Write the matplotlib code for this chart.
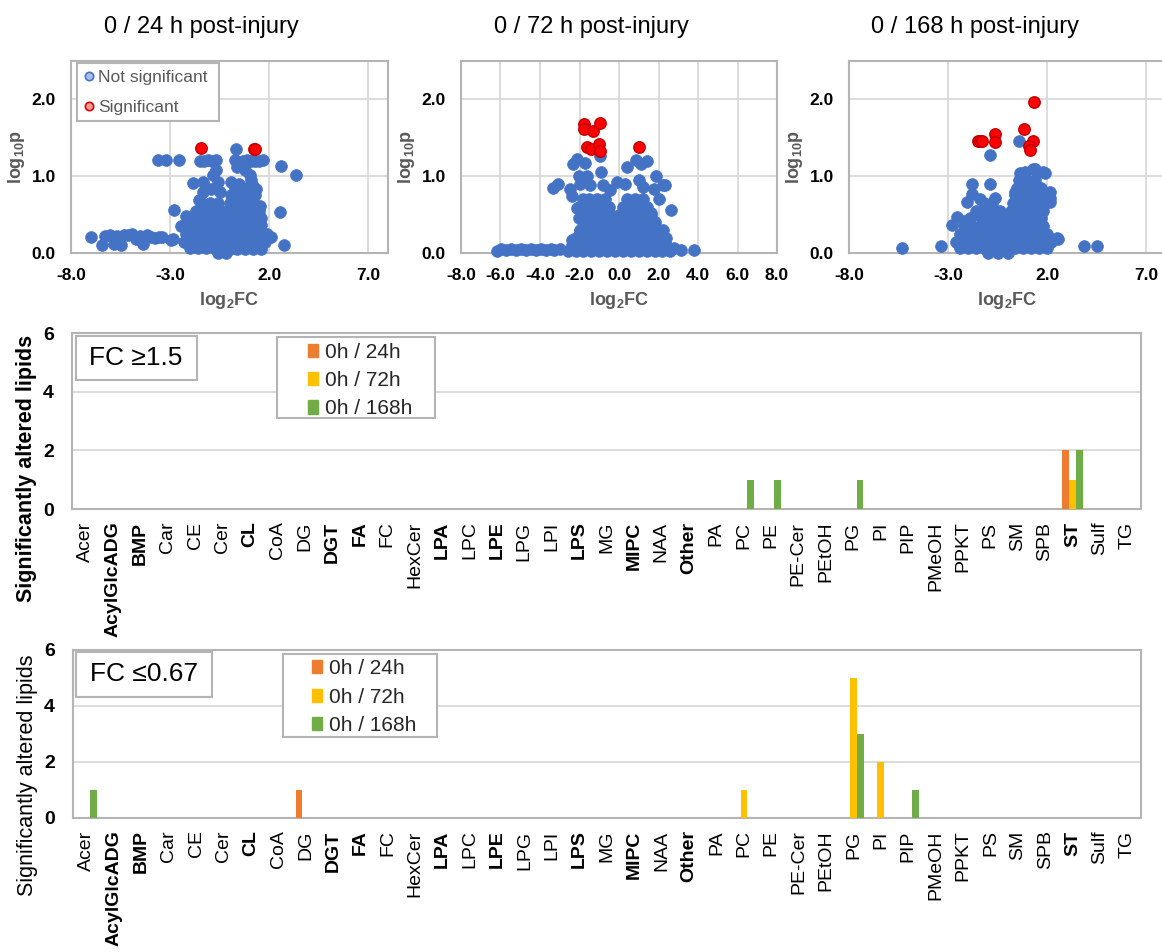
import numpy as np
import matplotlib
matplotlib.use("Agg")
import matplotlib.pyplot as plt
from matplotlib.lines import Line2D
from matplotlib.patches import Patch, Rectangle
from matplotlib.ticker import FormatStrFormatter

plt.rcParams['font.family'] = ['Liberation Sans', 'DejaVu Sans']
plt.rcParams['axes.unicode_minus'] = False
plt.rcParams['mathtext.default'] = 'regular'

BLUE = '#4472C4'
RED = '#FF0000'
DARK_RED = '#C00000'
ORANGE = '#ED7D31'
YELLOW = '#FFC000'
GREEN = '#70AD47'
GRID = '#D9D9D9'
FRAME = '#B4B4B4'
LABEL_GRAY = '#595959'

# ---- volcano data: (log2FC, log10p) ----
ns_24 = [
    (-7.0, 0.21), (-6.45, 0.11), (-6.3, 0.22), (-6.05, 0.23), (-5.85, 0.12), (-5.7, 0.22),
    (-5.5, 0.11), (-5.3, 0.23), (-5.1, 0.24), (-4.9, 0.25), (-4.7, 0.18), (-4.5, 0.22),
    (-4.35, 0.12), (-4.15, 0.23), (-3.95, 0.21), (-3.75, 0.2), (-3.55, 0.21), (-3.4, 0.21),
    (-2.95, 0.17), (-2.87, 0.18),
    (-3.6, 1.21), (-3.2, 1.21), (-2.56, 1.21), (-1.5, 1.2), (-1.3, 1.2), (-1.1, 1.21),
    (-0.9, 1.2), (-0.7, 1.21), (0.3, 1.21), (0.5, 1.19), (0.7, 1.2), (0.9, 1.21), (1.1, 1.2),
    (1.3, 1.2), (1.5, 1.2), (1.7, 1.21), (0.34, 1.36), (2.62, 1.13), (3.37, 1.01),
    (-0.67, 1.08), (-0.84, 1.01), (-0.59, 0.93), (-1.35, 0.93), (-1.85, 0.91), (0.37, 1.12),
    (0.76, 1.08), (1.01, 1.01), (1.1, 0.95), (1.35, 0.84), (0.09, 0.93), (-1.35, 0.8),
    (-0.93, 0.84), (-0.5, 0.8), (1.2, 0.87), (0.5, 0.9),
    (-2.78, 0.56), (2.53, 0.54), (1.52, 0.61), (1.6, 0.37), (-2.19, 0.48), (-1.52, 0.69),
    (-2.44, 0.35), (2.08, 0.21), (2.73, 0.1),
    (-1.4, 0.65), (-1.0, 0.65), (-0.6, 0.65),
    (-1.7, 0.55), (-1.25, 0.55), (-0.85, 0.55), (-0.45, 0.55),
    (-1.9, 0.45), (-1.5, 0.45), (-1.1, 0.45), (-0.7, 0.45), (-0.3, 0.45),
    (-2.0, 0.35), (-1.6, 0.35), (-1.2, 0.35), (-0.8, 0.35), (-0.4, 0.35),
    (-2.2, 0.25), (-1.8, 0.25), (-1.4, 0.25), (-1.0, 0.25), (-0.6, 0.25), (-0.2, 0.25),
    (-2.3, 0.15), (-1.9, 0.15), (-1.5, 0.15), (-1.1, 0.15), (-0.7, 0.15), (-0.3, 0.15),
    (-2.0, 0.07), (-1.6, 0.07), (-1.2, 0.07), (-0.8, 0.07), (-0.4, 0.07),
    (0.3, 0.85), (0.7, 0.85),
    (0.1, 0.75), (0.5, 0.75), (0.9, 0.75), (1.3, 0.75),
    (0.0, 0.65), (0.4, 0.65), (0.8, 0.65), (1.2, 0.65),
    (-0.1, 0.55), (0.3, 0.55), (0.7, 0.55), (1.1, 0.55), (1.5, 0.55),
    (0.0, 0.45), (0.4, 0.45), (0.8, 0.45), (1.2, 0.45), (1.6, 0.45),
    (0.1, 0.35), (0.5, 0.35), (0.9, 0.35), (1.3, 0.35),
    (0.0, 0.25), (0.4, 0.25), (0.8, 0.25), (1.2, 0.25), (1.6, 0.25), (1.9, 0.25),
    (0.2, 0.15), (0.6, 0.15), (1.0, 0.15), (1.4, 0.15), (1.8, 0.15),
    (0.0, 0.05), (0.4, 0.05), (0.8, 0.05), (1.2, 0.05), (1.6, 0.05),
    (-0.6, 0.0), (-0.2, 0.0),
]
sig_24 = [(-1.43, 1.37), (1.22, 1.35), (1.3, 1.36)]

ns_72 = [
    (-6.2, 0.03), (-5.95, 0.05), (-5.7, 0.04), (-5.45, 0.05), (-5.2, 0.04), (-4.95, 0.05),
    (-4.7, 0.04), (-4.45, 0.05), (-4.2, 0.04), (-3.95, 0.05), (-3.7, 0.04), (-3.45, 0.05),
    (-3.3, 0.04), (-2.98, 0.05),
    (-0.94, 1.26), (-2.31, 1.16), (-2.14, 1.23), (-1.71, 1.17), (-3.33, 0.85), (-3.07, 0.9),
    (0.42, 1.12), (0.85, 1.21), (1.1, 1.16), (1.44, 1.2), (1.87, 1.0), (2.21, 0.88),
    (2.34, 0.89), (2.04, 0.7), (2.63, 0.56), (1.61, 0.52), (-0.89, 1.06), (-1.63, 1.0),
    (-2.05, 1.0), (-2.48, 0.84), (-2.39, 0.74), (-1.8, 0.71), (-2.14, 0.59), (-2.05, 0.46),
    (-1.97, 0.29), (2.38, 0.2), (2.8, 0.06), (3.14, 0.04), (3.79, 0.04), (2.38, 0.09),
    (-1.97, 0.9), (-1.46, 0.88), (-0.79, 0.88), (-0.45, 0.82), (-0.11, 0.92), (0.31, 0.9),
    (0.99, 0.95), (1.24, 0.86), (1.75, 0.84), (0.9, 0.69), (1.58, 0.52), (2.25, 0.3),
    (-2.39, 0.17), (-2.05, 0.6),
    (-1.5, 0.7), (-1.1, 0.7), (-0.7, 0.7), (0.4, 0.7), (0.8, 0.7), (1.2, 0.7),
    (-1.7, 0.6), (-1.3, 0.6), (-0.9, 0.6), (-0.5, 0.6), (0.2, 0.6), (0.6, 0.6), (1.0, 0.6), (1.4, 0.6),
    (-1.6, 0.5), (-1.2, 0.5), (-0.8, 0.5), (-0.4, 0.5), (0.0, 0.5), (0.4, 0.5), (0.8, 0.5),
    (1.2, 0.5), (1.6, 0.5),
    (-1.8, 0.4), (-1.4, 0.4), (-1.0, 0.4), (-0.6, 0.4), (-0.2, 0.4), (0.2, 0.4), (0.6, 0.4),
    (1.0, 0.4), (1.4, 0.4), (1.8, 0.4),
    (-2.0, 0.3), (-1.6, 0.3), (-1.2, 0.3), (-0.8, 0.3), (-0.4, 0.3), (0.0, 0.3), (0.4, 0.3),
    (0.8, 0.3), (1.2, 0.3), (1.6, 0.3), (2.0, 0.3),
    (-2.2, 0.2), (-1.8, 0.2), (-1.4, 0.2), (-1.0, 0.2), (-0.6, 0.2), (-0.2, 0.2), (0.2, 0.2),
    (0.6, 0.2), (1.0, 0.2), (1.4, 0.2), (1.8, 0.2), (2.2, 0.2),
    (-2.4, 0.1), (-2.0, 0.1), (-1.6, 0.1), (-1.2, 0.1), (-0.8, 0.1), (-0.4, 0.1), (0.0, 0.1),
    (0.4, 0.1), (0.8, 0.1), (1.2, 0.1), (1.6, 0.1), (2.0, 0.1), (2.4, 0.1),
    (-2.6, 0.03), (-2.2, 0.03), (-1.8, 0.03), (-1.4, 0.03), (-1.0, 0.03), (-0.6, 0.03),
    (-0.2, 0.03), (0.2, 0.03), (0.6, 0.03), (1.0, 0.03), (1.4, 0.03), (1.8, 0.03),
    (2.2, 0.03), (2.6, 0.03),
]
sig_72 = [(-1.76, 1.68), (-1.76, 1.61), (-1.32, 1.59), (-0.94, 1.69), (-1.63, 1.38),
          (-1.42, 1.35), (-1.03, 1.42), (-0.98, 1.33), (1.02, 1.38)]

ns_168 = [
    (0.56, 1.46), (-0.9, 1.28), (-5.34, 0.06), (-3.37, 0.09), (-2.81, 0.37), (-2.56, 0.47),
    (3.84, 0.09), (4.51, 0.09), (2.57, 0.18), (2.15, 0.8), (2.15, 0.67), (1.87, 1.04),
    (1.39, 1.1), (-0.88, 0.9), (-1.8, 0.9), (-1.8, 0.77), (-2.06, 0.67), (-1.47, 0.49),
    (0.61, 1.04), (0.86, 1.06), (1.28, 1.09), (1.78, 1.06), (1.36, 0.89), (2.12, 0.72),
    (0.36, 0.8), (-1.41, 0.7), (-0.65, 0.72), (-0.82, 0.52), (-0.4, 0.55), (-2.19, 0.42),
    (2.5, 0.19),
    (0.6, 0.95), (1.0, 0.95), (1.4, 0.95),
    (0.5, 0.85), (0.9, 0.85), (1.3, 0.85), (1.7, 0.85),
    (0.4, 0.75), (0.8, 0.75), (1.2, 0.75), (1.6, 0.75),
    (-1.2, 0.65), (-0.8, 0.65), (0.3, 0.65), (0.7, 0.65), (1.1, 0.65), (1.5, 0.65), (1.9, 0.65),
    (-1.6, 0.55), (-1.2, 0.55), (-0.6, 0.55), (0.2, 0.55), (0.6, 0.55), (1.0, 0.55),
    (1.4, 0.55), (1.8, 0.55),
    (-1.9, 0.45), (-1.3, 0.45), (-0.9, 0.45), (-0.5, 0.45), (0.1, 0.45), (0.5, 0.45),
    (0.9, 0.45), (1.3, 0.45), (1.7, 0.45),
    (-2.2, 0.35), (-1.8, 0.35), (-1.4, 0.35), (-1.0, 0.35), (-0.6, 0.35), (-0.2, 0.35),
    (0.2, 0.35), (0.6, 0.35), (1.0, 0.35), (1.4, 0.35), (1.8, 0.35),
    (-2.4, 0.25), (-2.0, 0.25), (-1.6, 0.25), (-1.2, 0.25), (-0.8, 0.25), (-0.4, 0.25),
    (0.0, 0.25), (0.4, 0.25), (0.8, 0.25), (1.2, 0.25), (1.6, 0.25), (2.0, 0.25),
    (-2.6, 0.15), (-2.2, 0.15), (-1.8, 0.15), (-1.4, 0.15), (-1.0, 0.15), (-0.6, 0.15),
    (-0.2, 0.15), (0.2, 0.15), (0.6, 0.15), (1.0, 0.15), (1.4, 0.15), (1.8, 0.15), (2.2, 0.15),
    (-2.4, 0.06), (-2.0, 0.06), (-1.6, 0.06), (-1.2, 0.06), (-0.8, 0.06), (-0.4, 0.06),
    (0.0, 0.06), (0.4, 0.06), (0.8, 0.06), (1.2, 0.06), (1.6, 0.06), (2.0, 0.06),
    (-1.0, 0.0), (-0.5, 0.0), (0.0, 0.0),
]
sig_168 = [(1.33, 1.97), (0.83, 1.61), (1.28, 1.46), (1.11, 1.39), (1.16, 1.34),
           (-1.49, 1.46), (-1.39, 1.46), (-1.29, 1.46), (-0.62, 1.55), (-0.62, 1.45)]

titles = ['0 / 24 h post-injury', '0 / 72 h post-injury', '0 / 168 h post-injury']

# ---- lipid class counts ----
lipid_classes = ['Acer', 'AcylGlcADG', 'BMP', 'Car', 'CE', 'Cer', 'CL', 'CoA', 'DG', 'DGT',
                 'FA', 'FC', 'HexCer', 'LPA', 'LPC', 'LPE', 'LPG', 'LPI', 'LPS', 'MG',
                 'MIPC', 'NAA', 'Other', 'PA', 'PC', 'PE', 'PE-Cer', 'PEtOH', 'PG', 'PI',
                 'PIP', 'PMeOH', 'PPKT', 'PS', 'SM', 'SPB', 'ST', 'Sulf', 'TG']
bold_classes = ['AcylGlcADG', 'BMP', 'CL', 'DGT', 'FA', 'LPA', 'LPE', 'LPS', 'MIPC',
                'Other', 'ST']
series_labels = ['0h / 24h', '0h / 72h', '0h / 168h']

up_24 = [0, 0, 0, 0, 0, 0, 0, 0, 0, 0,
         0, 0, 0, 0, 0, 0, 0, 0, 0, 0,
         0, 0, 0, 0, 0, 0, 0, 0, 0, 0,
         0, 0, 0, 0, 0, 0, 2, 0, 0]
up_72 = [0, 0, 0, 0, 0, 0, 0, 0, 0, 0,
         0, 0, 0, 0, 0, 0, 0, 0, 0, 0,
         0, 0, 0, 0, 0, 0, 0, 0, 0, 0,
         0, 0, 0, 0, 0, 0, 1, 0, 0]
up_168 = [0, 0, 0, 0, 0, 0, 0, 0, 0, 0,
          0, 0, 0, 0, 0, 0, 0, 0, 0, 0,
          0, 0, 0, 0, 1, 1, 0, 0, 1, 0,
          0, 0, 0, 0, 0, 0, 2, 0, 0]
down_24 = [0, 0, 0, 0, 0, 0, 0, 0, 1, 0,
           0, 0, 0, 0, 0, 0, 0, 0, 0, 0,
           0, 0, 0, 0, 0, 0, 0, 0, 0, 0,
           0, 0, 0, 0, 0, 0, 0, 0, 0]
down_72 = [0, 0, 0, 0, 0, 0, 0, 0, 0, 0,
           0, 0, 0, 0, 0, 0, 0, 0, 0, 0,
           0, 0, 0, 0, 1, 0, 0, 0, 5, 2,
           0, 0, 0, 0, 0, 0, 0, 0, 0]
down_168 = [1, 0, 0, 0, 0, 0, 0, 0, 0, 0,
            0, 0, 0, 0, 0, 0, 0, 0, 0, 0,
            0, 0, 0, 0, 0, 0, 0, 0, 3, 0,
            1, 0, 0, 0, 0, 0, 0, 0, 0]

fig = plt.figure(figsize=(11.62, 9.52), dpi=100)


def volcano(rect, ns, sig, xticks, title, title_x, show_legend=False):
    ax = fig.add_axes(rect)
    x, y = zip(*ns)
    ax.scatter(x, y, s=72, color=BLUE, edgecolors=BLUE, linewidths=0.5, clip_on=False, zorder=3)
    x, y = zip(*sig)
    ax.scatter(x, y, s=68, color=RED, edgecolors=DARK_RED, linewidths=1.0, clip_on=False, zorder=4)
    ax.set_xlim(-8, 8)
    ax.set_ylim(0, 2.5)
    ax.set_xticks(xticks)
    ax.set_yticks([0, 1, 2])
    ax.xaxis.set_major_formatter(FormatStrFormatter('%.1f'))
    ax.yaxis.set_major_formatter(FormatStrFormatter('%.1f'))
    ax.tick_params(length=0, labelsize=12.5, pad=11)
    for t in ax.get_xticklabels() + ax.get_yticklabels():
        t.set_fontweight('bold')
    ax.grid(color=GRID, lw=1.3)
    ax.set_axisbelow(True)
    for sp in ax.spines.values():
        sp.set_color(FRAME)
        sp.set_linewidth(1.5)
    ax.set_xlabel(r'$\mathregular{log_2}$FC', fontsize=13, fontweight='bold', color=LABEL_GRAY)
    ax.set_ylabel(r'$\mathregular{log_{10}p}$', fontsize=13, fontweight='bold', color=LABEL_GRAY)
    ax.xaxis.set_label_coords(0.5, -0.195)
    ax.yaxis.set_label_coords(-0.14, 0.5)
    fig.text(title_x, 1 - 27 / 952, title, fontsize=17, ha='center', va='center')
    if show_legend:
        ax.add_patch(Rectangle((0.019, 0.6875), 0.448, 0.302, transform=ax.transAxes,
                               facecolor='white', edgecolor=FRAME, lw=1.5, zorder=5,
                               clip_on=False))
        handles = [Line2D([], [], ls='', marker='o', markersize=6, markerfacecolor='#A9BFE8',
                          markeredgecolor=BLUE, markeredgewidth=1.2),
                   Line2D([], [], ls='', marker='o', markersize=6, markerfacecolor='#FF9B9B',
                          markeredgecolor='#E00000', markeredgewidth=1.2)]
        leg = ax.legend(handles, ['Not significant', 'Significant'], loc='upper left',
                        bbox_to_anchor=(0.037, 0.955), frameon=False, fontsize=12.5,
                        handlelength=0.7, handletextpad=0.2, labelspacing=0.85,
                        borderpad=0, borderaxespad=0)
        leg.set_zorder(6)
        for t in leg.get_texts():
            t.set_color(LABEL_GRAY)
    return ax


volcano([71 / 1162, 0.7342, 317 / 1162, 0.2017], ns_24, sig_24, [-8, -3, 2, 7],
        titles[0], 201 / 1162, show_legend=True)
volcano([461 / 1162, 0.7342, 316 / 1162, 0.2017], ns_72, sig_72, list(range(-8, 9, 2)),
        titles[1], 591 / 1162)
volcano([849 / 1162, 0.7342, 317 / 1162, 0.2017], ns_168, sig_168, [-8, -3, 2, 7],
        titles[2], 975 / 1162)


def lipid_bars(rect, s24, s72, s168, tag, tag_box, tag_xy, leg_box, leg_xy, bold_ylabel,
               ylabel_y):
    ax = fig.add_axes(rect)
    x = np.arange(len(lipid_classes))
    w = 0.25
    for off, vals, col, lab in zip([-w, 0, w], [s24, s72, s168], [ORANGE, YELLOW, GREEN],
                                   series_labels):
        ax.bar(x + off, vals, width=w, color=col, label=lab, zorder=3)
    ax.set_xlim(-0.5, len(lipid_classes) - 0.5)
    ax.set_ylim(0, 6)
    ax.set_yticks([0, 2, 4, 6])
    ax.set_xticks(x)
    ax.set_xticklabels(lipid_classes, rotation=90, fontsize=14)
    for t in ax.get_xticklabels():
        if t.get_text() in bold_classes:
            t.set_fontweight('bold')
    ax.tick_params(axis='x', length=0, pad=9)
    ax.tick_params(axis='y', length=0, pad=13, labelsize=14)
    for t in ax.get_yticklabels():
        t.set_fontweight('bold')
    ax.grid(axis='y', color=GRID, lw=1.3)
    ax.set_axisbelow(True)
    for sp in ax.spines.values():
        sp.set_color(FRAME)
        sp.set_linewidth(1.5)
    ax.set_ylabel('Significantly altered lipids', fontsize=15.5,
                  fontweight='bold' if bold_ylabel else 'normal')
    ax.yaxis.set_label_coords(-0.033, ylabel_y)

    # threshold tag
    ax.add_patch(Rectangle(tag_box[:2], tag_box[2], tag_box[3], transform=ax.transAxes,
                           facecolor='white', edgecolor=FRAME, lw=1.5, zorder=5))
    ax.text(tag_xy[0], tag_xy[1], tag, transform=ax.transAxes, fontsize=19,
            ha='center', va='center', zorder=6)

    # series legend
    ax.add_patch(Rectangle(leg_box[:2], leg_box[2], leg_box[3], transform=ax.transAxes,
                           facecolor='white', edgecolor=FRAME, lw=1.5, zorder=5))
    handles = [Patch(color=c) for c in [ORANGE, YELLOW, GREEN]]
    leg = ax.legend(handles, series_labels, loc='upper left', bbox_to_anchor=leg_xy,
                    frameon=False, fontsize=15, handlelength=0.5, handleheight=0.6,
                    handletextpad=0.3, labelspacing=0.45, borderpad=0, borderaxespad=0)
    leg.set_zorder(6)
    for t in leg.get_texts():
        t.set_color('#262626')
    return ax


lipid_bars([72 / 1162, 0.4653, 1069 / 1162, 0.1849], up_24, up_72, up_168, 'FC \u22651.5',
           (0.0037, 0.733, 0.1132, 0.25), (0.0599, 0.858),
           (0.192, 0.517, 0.148, 0.46), (0.2208, 0.945), True, 0.23)
lipid_bars([73 / 1162, 0.1408, 1068 / 1162, 0.1765], down_24, down_72, down_168, 'FC \u22640.67',
           (0.0028, 0.72, 0.1273, 0.268), (0.0665, 0.854),
           (0.1966, 0.482, 0.1442, 0.494), (0.2238, 0.945), False, 0.255)

fig.savefig('out.png', dpi=100)
